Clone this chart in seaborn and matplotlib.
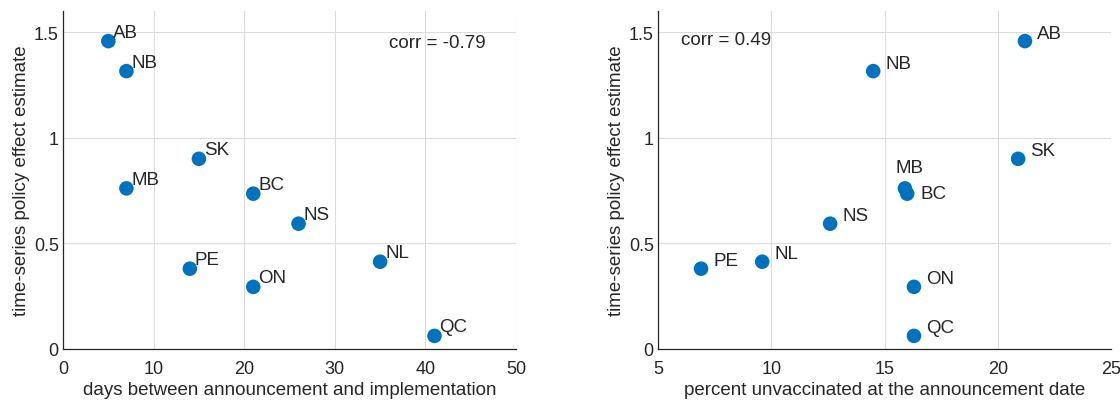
import matplotlib
matplotlib.use("Agg")
import matplotlib.pyplot as plt
from matplotlib.ticker import FormatStrFormatter
import seaborn as sns
import pandas as pd

sns.set_theme(style="whitegrid")
plt.rcParams["font.family"] = ["Liberation Sans", "DejaVu Sans"]

# province codes and values
provinces = ["AB", "NB", "SK", "MB", "BC", "NS", "PE", "ON", "NL", "QC"]
effect = [1.457, 1.315, 0.90, 0.76, 0.735, 0.593, 0.38, 0.294, 0.413, 0.062]
days_gap = [5, 7, 15, 7, 21, 26, 14, 21, 35, 41]
pct_unvax = [21.2, 14.5, 20.9, 15.9, 16.0, 12.6, 6.9, 16.3, 9.6, 16.3]
corr_labels = ["corr = -0.79", "corr = 0.49"]

df = pd.DataFrame({"prov": provinces, "effect": effect,
                   "days": days_gap, "unvax": pct_unvax})

blue = "#0072BD"
txt = "#262626"
fig = plt.figure(figsize=(11.2, 4.02), dpi=100)
ax1 = fig.add_axes([0.05625, 0.1294, 0.4045, 0.841])
ax2 = fig.add_axes([0.5875, 0.1294, 0.4045, 0.841])


def style_axes(ax, xlim, xticks, xlabel):
    ax.set_xlim(*xlim)
    ax.set_ylim(0, 1.6)
    ax.set_xticks(xticks)
    ax.set_yticks([0, 0.5, 1, 1.5])
    ax.yaxis.set_major_formatter(FormatStrFormatter("%g"))
    ax.xaxis.set_major_formatter(FormatStrFormatter("%g"))
    ax.grid(True, color="#dcdcdc", linewidth=0.8)
    for s in ["top", "right"]:
        ax.spines[s].set_visible(False)
    for s in ["left", "bottom"]:
        ax.spines[s].set_color(txt)
        ax.spines[s].set_linewidth(0.9)
    ax.tick_params(axis="both", direction="in", length=3, color=txt,
                   labelsize=13, labelcolor=txt)
    ax.tick_params(axis="x", pad=8)
    ax.tick_params(axis="y", pad=3)
    ax.set_xlabel(xlabel, fontsize=13.5, color=txt, labelpad=3)
    ax.set_ylabel("time-series policy effect estimate", fontsize=13.5,
                  color=txt, labelpad=3)
    ax.set_facecolor("white")


# left panel
sns.scatterplot(data=df, x="days", y="effect", ax=ax1, color=blue, s=110,
                edgecolor="none", zorder=3)
for _, r in df.iterrows():
    ax1.annotate(r["prov"], (r["days"], r["effect"]), textcoords="offset pixels",
                 xytext=(5, 9), ha="left", va="center", fontsize=13.5)
style_axes(ax1, (0, 50), [0, 10, 20, 30, 40, 50],
           "days between announcement and implementation")
ax1.text(0.72, 0.908, corr_labels[0], transform=ax1.transAxes, fontsize=13.5,
         va="center")

# right panel
sns.scatterplot(data=df, x="unvax", y="effect", ax=ax2, color=blue, s=110,
                edgecolor="none", zorder=3)
for _, r in df.iterrows():
    if r["prov"] == "MB":
        off, ha = (5, 21), "center"
    elif r["prov"] == "BC":
        off, ha = (13, 0), "left"
    else:
        off, ha = (12, 8), "left"
    ax2.annotate(r["prov"], (r["unvax"], r["effect"]), textcoords="offset pixels",
                 xytext=off, ha=ha, va="center", fontsize=13.5)
style_axes(ax2, (5, 25), [5, 10, 15, 20, 25],
           "percent unvaccinated at the announcement date")
ax2.text(0.05, 0.915, corr_labels[1], transform=ax2.transAxes, fontsize=13.5,
         va="center")

fig.savefig("out.png", dpi=100, facecolor="white")
